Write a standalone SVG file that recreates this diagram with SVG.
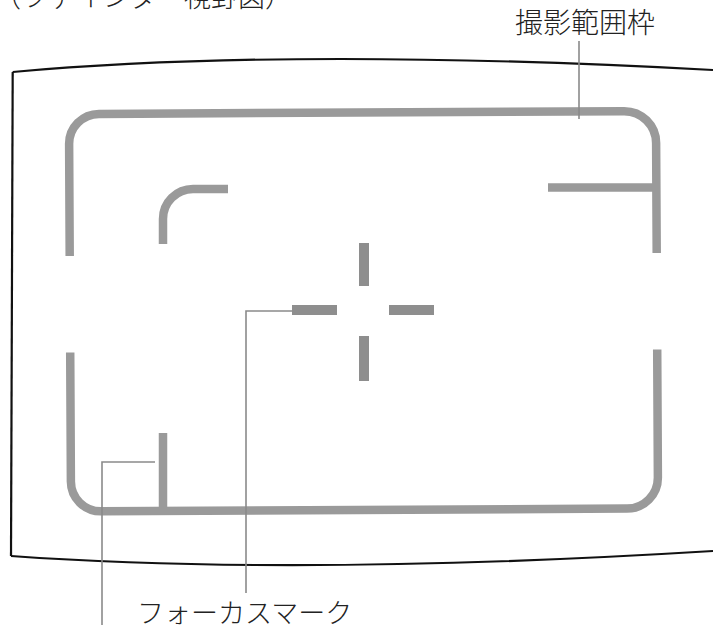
<svg xmlns="http://www.w3.org/2000/svg" width="713" height="625" viewBox="0 0 713 625">
<style>
.bg{fill:#ffffff}
.outer{fill:none;stroke:#111;stroke-width:2.2}
.frame{fill:none;stroke:#9a9a9a;stroke-width:8.5;stroke-linecap:butt}
.mark{fill:#8e8e8e}
.lead{fill:none;stroke:#8a8a8a;stroke-width:1.6}
.lbl{font-family:"Noto Sans CJK JP","Noto Sans",sans-serif;font-weight:300;fill:#222}
</style>
<rect class="bg" x="0" y="0" width="713" height="625"/>
<g id="title">
<text class="lbl" font-size="27" y="7" x="-6 22 49 76 103 130 157 184 211 238 265">（ファインダー視野図）</text>
</g>
<g id="viewfinder">
<path class="outer" d="M12.7,72 Q290,47 713,70"/>
<path class="outer" d="M12.7,72 L11,556"/>
<path class="outer" d="M11,556 Q298,576.5 713,551"/>
</g>
<g id="frame">
<g transform="rotate(-0.3 363 311)">
<path class="frame" d="M70,254.5 V142.5 A30,30 0 0 1 100,112.5 H625 A32,32 0 0 1 657,144.5 V254.5"/>
<path class="frame" d="M70,351 V480 A30,30 0 0 0 100,510 H626 A31,31 0 0 0 657,479 V351"/>
</g>
<path class="frame" d="M548,187.5 H657"/>
<path class="frame" d="M163,244 V219 A30,30 0 0 1 193,189 H228"/>
<path class="frame" d="M163,433 V511"/>
</g>
<g id="focus-mark">
<rect class="mark" x="359" y="243" width="10" height="43"/>
<rect class="mark" x="359" y="336" width="10" height="45"/>
<rect class="mark" x="292" y="305" width="45" height="10"/>
<rect class="mark" x="389" y="305" width="45" height="10"/>
</g>
<g id="connectors">
<path class="lead" d="M579,41 V119"/>
<path class="lead" d="M292,311 H246 V593"/>
<path class="lead" d="M155,462 H102 V625"/>
</g>
<g id="label-frame">
<text class="lbl" font-size="28" x="585" y="33" text-anchor="middle">撮影範囲枠</text>
</g>
<g id="label-focus">
<text class="lbl" font-size="27" x="137" y="623">フォーカスマーク</text>
</g>
</svg>
